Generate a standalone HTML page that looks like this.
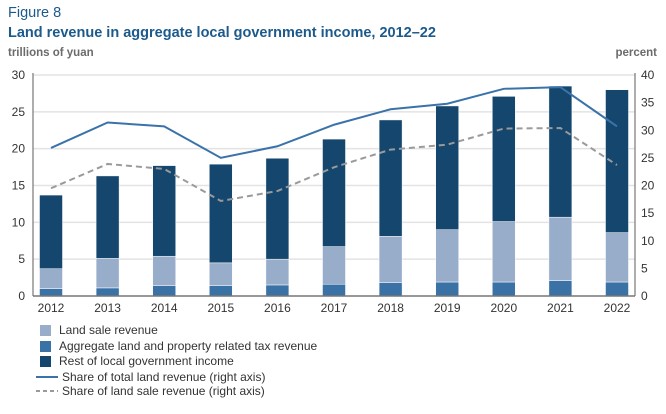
<!DOCTYPE html>
<html><head><meta charset="utf-8"><style>
body{margin:0;background:#fff;font-family:"Liberation Sans",sans-serif;}
svg text{font-family:"Liberation Sans",sans-serif;}
</style></head><body>
<svg id="c" width="666" height="409" viewBox="0 0 666 409" xmlns="http://www.w3.org/2000/svg">
<text x="8" y="17" font-size="14.5" fill="#1c5a8c">Figure 8</text>
<text x="8" y="37" font-size="14.5" font-weight="bold" fill="#1c5a8c">Land revenue in aggregate local government income, 2012–22</text>
<text x="8" y="56" font-size="11.5" font-weight="bold" fill="#6b6b6b">trillions of yuan</text>
<text x="657" y="56" font-size="11.5" font-weight="bold" fill="#6b6b6b" text-anchor="end">percent</text>
<g id="grid"></g><g id="bars"></g><g id="lines"></g><g id="axes"></g><g id="legend"></g>
</svg>
<script>
const years=["2012","2013","2014","2015","2016","2017","2018","2019","2020","2021","2022"];
const taxRev=[1.0,1.1,1.4,1.4,1.5,1.6,1.8,1.9,1.9,2.1,1.9];
const landSaleTop=[3.7,5.1,5.4,4.5,5.0,6.7,8.1,9.0,10.1,10.7,8.6];
const totalIncome=[13.7,16.3,17.7,17.9,18.7,21.3,23.9,25.8,27.1,28.5,28.0];
const shareTotal=[26.8,31.4,30.7,25.0,27.1,31.0,33.8,34.8,37.5,37.8,30.7];
const shareLandSale=[19.5,23.9,23.0,17.2,19.0,23.3,26.5,27.4,30.3,30.4,23.7];
const leftTicks=[0,5,10,15,20,25,30];
const rightTicks=[0,5,10,15,20,25,30,35,40];

const NS="http://www.w3.org/2000/svg";
const X0=33,X1=635,Y0=296,Y1=75;
const yL=v=>Y0-(v/30)*(Y0-Y1);
const yR=v=>Y0-(v/40)*(Y0-Y1);
const xC=i=>51+i*56.6;
function mk(tag,attrs,parent){const e=document.createElementNS(NS,tag);for(const k in attrs)e.setAttribute(k,attrs[k]);document.getElementById(parent).appendChild(e);return e;}

leftTicks.forEach(t=>{
 if(t>0){const g=mk('line',{x1:X0,x2:X1,y1:yL(t),y2:yL(t),stroke:'#e3e3e3','stroke-width':1.5},'grid');
 
 }
 const l=mk('text',{x:25,y:yL(t)+4,'font-size':12,fill:'#333','text-anchor':'end'},'axes');l.textContent=t;
 
 
});
rightTicks.forEach(t=>{
 const l=mk('text',{x:641,y:yR(t)+4,'font-size':12,fill:'#333'},'axes');l.textContent=t;
 
 
});
const bw=23;
years.forEach((y,i)=>{
 const segs=[[0,taxRev[i],'#3a72a6','bar-tax'],[taxRev[i],landSaleTop[i],'#98adca','bar-land-sale'],[landSaleTop[i],totalIncome[i],'#14466e','bar-rest']];
 segs.forEach(s=>{
  const r=mk('rect',{x:xC(i)-bw/2,y:yL(s[1]),width:bw,height:yL(s[0])-yL(s[1]),fill:s[2],stroke:'#fff','stroke-width':0.5},'bars');
  
  
 });
 const l=mk('text',{x:xC(i),y:312,'font-size':12,fill:'#333','text-anchor':'middle'},'axes');l.textContent=y;
 
 
});
const p1=mk('polyline',{points:shareTotal.map((v,i)=>xC(i)+','+yR(v)).join(' '),fill:'none',stroke:'#3a72aa','stroke-width':2},'lines');


const p2=mk('polyline',{points:shareLandSale.map((v,i)=>xC(i)+','+yR(v)).join(' '),fill:'none',stroke:'#9a9a9a','stroke-width':2,'stroke-dasharray':'6,4'},'lines');


const ax=mk('line',{x1:X0,x2:X0,y1:Y1-2,y2:Y0,stroke:'#777','stroke-width':1.2},'axes');


const ax2=mk('line',{x1:X1,x2:X1,y1:Y1-2,y2:Y0,stroke:'#777','stroke-width':1.2},'axes');


const ax3=mk('line',{x1:X0,x2:X1,y1:Y0,y2:Y0,stroke:'#777','stroke-width':1.5},'axes');



const leg=[['Land sale revenue','#98adca','sq'],['Aggregate land and property related tax revenue','#3a72a6','sq'],['Rest of local government income','#14466e','sq'],['Share of total land revenue (right axis)','#3a72aa','line'],['Share of land sale revenue (right axis)','#9a9a9a','dash']];
const legY=[330,346,361,377,391];
leg.forEach((e,i)=>{
 const cy=legY[i];
 let m;
 if(e[2]==='sq') m=mk('rect',{x:40,y:cy-5,width:11,height:11,fill:e[1]},'legend');
 else m=mk('line',{x1:36,x2:58,y1:cy,y2:cy,stroke:e[1],'stroke-width':2,'stroke-dasharray':e[2]==='dash'?'4,3':'none'},'legend');
 
 
 const t=mk('text',{x:e[2]==='sq'?59:62,y:cy+4,'font-size':12,fill:'#333'},'legend');t.textContent=e[0];
 
 
});
</script>
</body></html>
